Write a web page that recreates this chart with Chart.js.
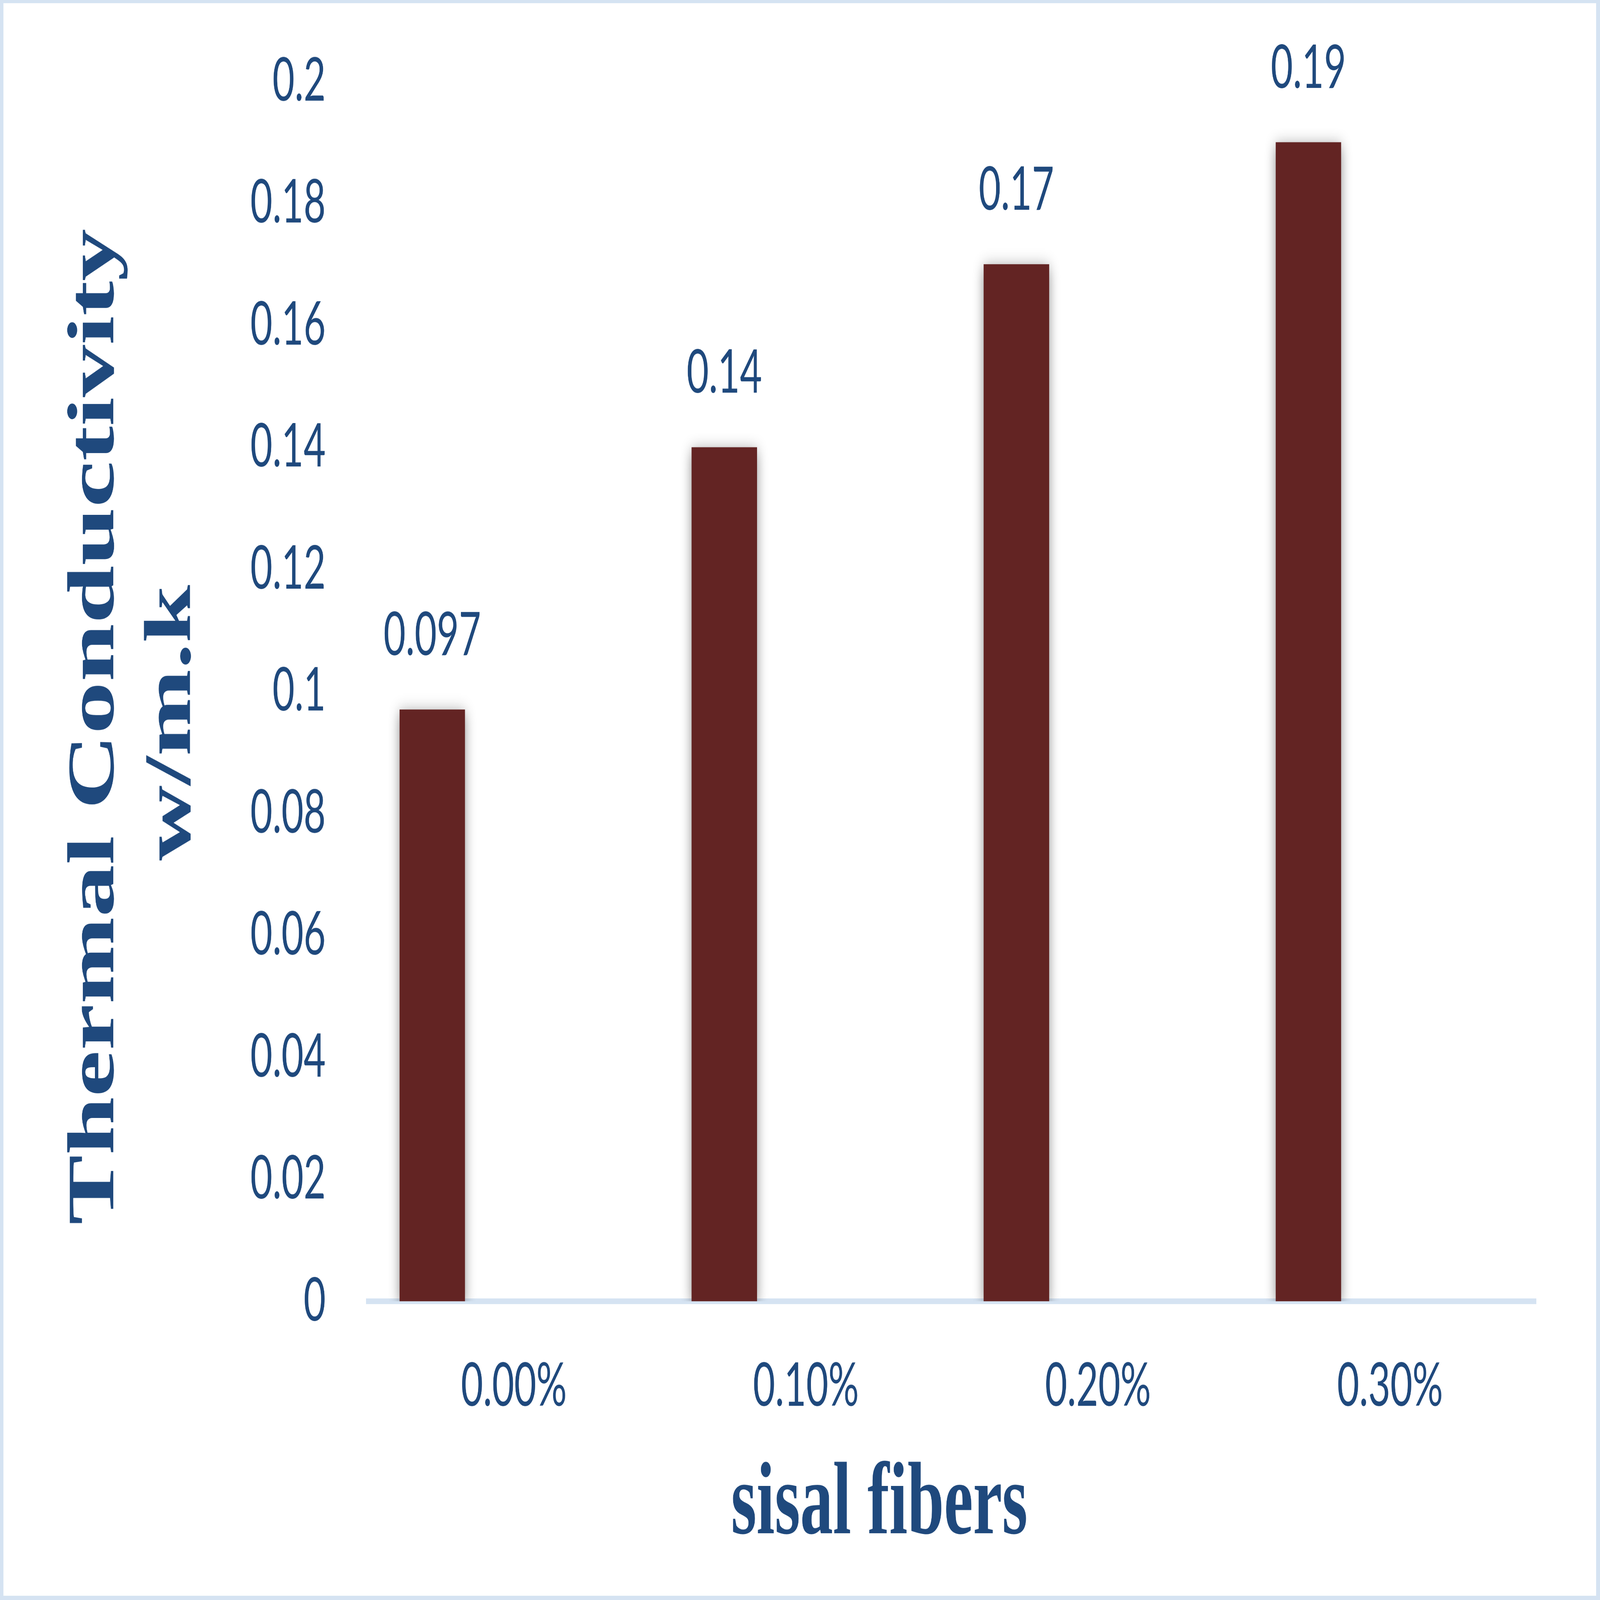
<!DOCTYPE html>
<html>
<head>
<meta charset="utf-8">
<script src="https://cdn.jsdelivr.net/npm/chart.js@4.4.1/dist/chart.umd.min.js"></script>
<style>
  html, body { margin: 0; padding: 0; background: #fff; overflow: hidden; }
  canvas { display: block; }
</style>
</head>
<body>
<!-- drawn at the reference size, then fitted to the window -->
<canvas id="myChart" width="7133" height="4531" style="width:100vw;height:100vh"></canvas>
<script>
// values
var categories = ['0.00%', '0.10%', '0.20%', '0.30%'];
var conductivity = [0.097, 0.14, 0.17, 0.19];
var emptySeries = [null, null, null, null];
var yTickLabels = ['0', '0.02', '0.04', '0.06', '0.08', '0.1', '0.12', '0.14', '0.16', '0.18', '0.2'];
var xTitle = 'sisal fibers';
var yTitle = ['Thermal Conductivity', 'w/m.k'];

var blue = '#1F497D';
var barRed = '#632423';
var paleBlue = '#D5E3F2';
var tickFont = { family: 'Lato', size: 170 };

// white page with a pale blue frame
const framePlugin = {
    id: 'frame',
    beforeDraw(chart) {
        const ctx = chart.ctx;
        ctx.save();
        ctx.fillStyle = '#ffffff';
        ctx.fillRect(0, 0, chart.width, chart.height);
        ctx.fillStyle = paleBlue;
        ctx.fillRect(0, 0, chart.width, 9);
        ctx.fillRect(0, chart.height - 12, chart.width, 12);
        ctx.fillRect(0, 0, 15, chart.height);
        ctx.fillRect(chart.width - 17, 0, 17, chart.height);
        ctx.restore();
    }
};

// soft grey shadow under the bars, then value labels on top
const barPlugin = {
    id: 'bars',
    beforeDatasetsDraw(chart) {
        const ctx = chart.ctx;
        ctx.save();
        ctx.shadowColor = 'rgba(0,0,0,0.45)';
        ctx.shadowBlur = 45;
        ctx.shadowOffsetX = 0;
        ctx.shadowOffsetY = 10;
    },
    afterDatasetsDraw(chart) {
        const ctx = chart.ctx;
        ctx.restore();
        ctx.save();
        ctx.fillStyle = blue;
        ctx.font = tickFont.size + 'px ' + tickFont.family;
        ctx.textAlign = 'center';
        ctx.textBaseline = 'middle';
        chart.getDatasetMeta(0).data.forEach(function (bar, i) {
            ctx.fillText(String(conductivity[i]), bar.x, bar.y - 209);
        });
        ctx.restore();
    }
};

// axis titles in bold serif
const titlePlugin = {
    id: 'titles',
    afterDraw(chart) {
        const ctx = chart.ctx;
        ctx.save();
        ctx.fillStyle = blue;
        ctx.font = 'bold 292px "Liberation Serif"';
        ctx.textAlign = 'center';
        ctx.textBaseline = 'alphabetic';
        ctx.fillText(xTitle, 3920, 4342);

        ctx.font = 'bold 296px "Liberation Serif"';
        ctx.save();
        ctx.translate(505, 2058);
        ctx.rotate(-Math.PI / 2);
        ctx.fillText(yTitle[0], 0, 0);
        ctx.restore();
        ctx.translate(847, 2047);
        ctx.rotate(-Math.PI / 2);
        ctx.fillText(yTitle[1], 0, 0);
        ctx.restore();
    }
};

const ctx = document.getElementById('myChart').getContext('2d');
const myChart = new Chart(ctx, {
    type: 'bar',
    data: {
        labels: categories,
        datasets: [{
            label: 'Thermal Conductivity',
            data: conductivity,
            backgroundColor: barRed,
            borderWidth: 0,
            categoryPercentage: 1.118,
            barPercentage: 0.401
        }, {
            label: '',
            data: emptySeries,
            backgroundColor: barRed,
            borderWidth: 0,
            categoryPercentage: 1.118,
            barPercentage: 0.401
        }]
    },
    options: {
        responsive: false,
        animation: false,
        devicePixelRatio: 1,
        layout: { padding: { top: 230, right: 285, bottom: 0, left: 0 } },
        plugins: {
            legend: { display: false },
            tooltip: { enabled: false }
        },
        scales: {
            x: {
                z: 1,
                // invisible tick marks used as the gap between axis and labels
                grid: { display: false, drawTicks: true, tickLength: 139 },
                border: { display: true, color: paleBlue, width: 16 },
                ticks: { color: blue, font: tickFont, padding: 0, maxRotation: 0 },
                afterFit: function (scale) { scale.height = 4531 - 3685; }
            },
            y: {
                min: 0,
                max: 0.2,
                grid: { display: false, drawTicks: true, tickLength: 188 },
                border: { display: false },
                ticks: {
                    stepSize: 0.02,
                    color: blue,
                    font: tickFont,
                    padding: 0,
                    callback: function (value, index) { return yTickLabels[index]; }
                },
                afterFit: function (scale) { scale.width = 1640; }
            }
        }
    },
    plugins: [framePlugin, barPlugin, titlePlugin]
});
</script>
</body>
</html>
